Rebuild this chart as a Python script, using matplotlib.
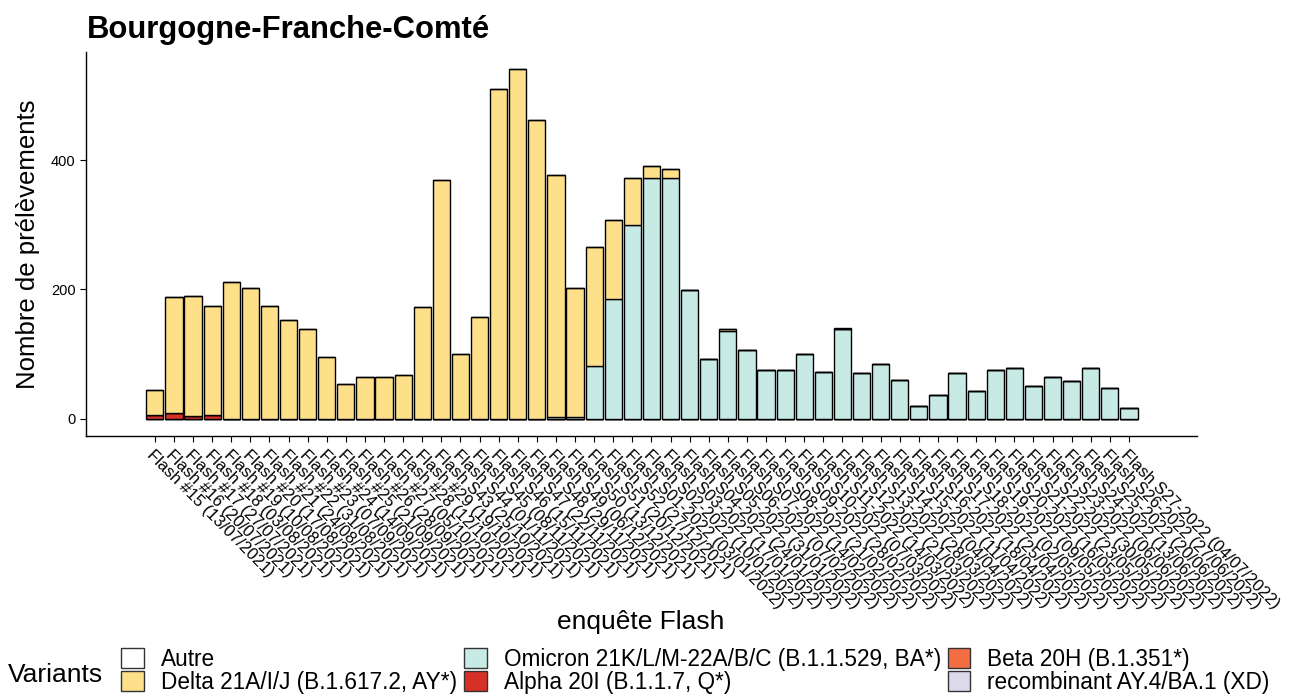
import matplotlib
matplotlib.use('Agg')
import matplotlib.pyplot as plt
from matplotlib.patches import Patch
import numpy as np

plt.rcParams['font.family'] = ['Liberation Sans', 'DejaVu Sans']

# x labels (one bar per Flash survey)
labels_2021a = ['Flash #15 (13/07/2021)', 'Flash #16 (20/07/2021)', 'Flash #17 (27/07/2021)',
                'Flash #18 (03/08/2021)', 'Flash #19 (10/08/2021)', 'Flash #20 (17/08/2021)',
                'Flash #21 (24/08/2021)', 'Flash #22 (31/08/2021)', 'Flash #23 (07/09/2021)',
                'Flash #24 (14/09/2021)', 'Flash #25 (21/09/2021)', 'Flash #26 (28/09/2021)',
                'Flash #27 (05/10/2021)', 'Flash #28 (12/10/2021)', 'Flash #29 (19/10/2021)']
labels_2021b = ['Flash S43 (25/10/2021)', 'Flash S44 (01/11/2021)', 'Flash S45 (08/11/2021)',
                'Flash S46 (15/11/2021)', 'Flash S47 (22/11/2021)', 'Flash S48 (29/11/2021)',
                'Flash S49 (06/12/2021)', 'Flash S50 (13/12/2021)', 'Flash S51 (20/12/2021)',
                'Flash S52 (27/12/2021)']
labels_2022 = ['Flash S01-2022 (03/01/2022)', 'Flash S02-2022 (10/01/2022)', 'Flash S03-2022 (17/01/2022)',
               'Flash S04-2022 (24/01/2022)', 'Flash S05-2022 (31/01/2022)', 'Flash S06-2022 (07/02/2022)',
               'Flash S07-2022 (14/02/2022)', 'Flash S08-2022 (21/02/2022)', 'Flash S09-2022 (28/02/2022)',
               'Flash S10-2022 (07/03/2022)', 'Flash S11-2022 (14/03/2022)', 'Flash S12-2022 (21/03/2022)',
               'Flash S13-2022 (28/03/2022)', 'Flash S14-2022 (04/04/2022)', 'Flash S15-2022 (11/04/2022)',
               'Flash S16-2022 (18/04/2022)', 'Flash S17-2022 (25/04/2022)', 'Flash S18-2022 (02/05/2022)',
               'Flash S19-2022 (09/05/2022)', 'Flash S20-2022 (16/05/2022)', 'Flash S21-2022 (23/05/2022)',
               'Flash S22-2022 (30/05/2022)', 'Flash S23-2022 (06/06/2022)', 'Flash S24-2022 (13/06/2022)',
               'Flash S25-2022 (20/06/2022)', 'Flash S26-2022 (27/06/2022)', 'Flash S27-2022 (04/07/2022)']
labels = labels_2021a + labels_2021b + labels_2022

# counts per variant
autre = [0]*36 + [1] + [0]*15
delta = [39, 179, 186, 168, 211, 202, 174, 152, 139, 96, 54, 65, 64, 67, 173,
         370, 100, 157, 510, 542, 462, 376, 199, 184, 122, 73, 20, 14, 0, 0,
         2] + [0]*21
omicron = [0]*21 + [2, 3, 82, 185, 300, 372, 372, 199, 92, 136, 106, 75, 75, 100,
                    72, 139, 70, 84, 59, 20, 37, 70, 42, 75, 78, 50, 64, 58, 79, 48, 16]
alpha = [6, 9, 4, 6] + [0]*48
beta = [0]*52
recomb = [0]*52

variants = ['Autre', 'Delta 21A/I/J (B.1.617.2, AY*)', 'Omicron 21K/L/M-22A/B/C (B.1.1.529, BA*)',
            'Alpha 20I (B.1.1.7, Q*)', 'Beta 20H (B.1.351*)', 'recombinant AY.4/BA.1 (XD)']
colors = ['#FFFFFF', '#FEE08B', '#C7EAE5', '#D73027', '#F46D43', '#DADAEB']

fig = plt.figure(figsize=(12.96, 6.97), dpi=100)
ax = fig.add_axes([0.0664, 0.3745, 0.8572, 0.551])

x = np.arange(len(labels))
# stack from bottom: recombinant, beta, alpha, omicron, delta, autre
stack = [(recomb, 5), (beta, 4), (alpha, 3), (omicron, 2), (delta, 1), (autre, 0)]
bottom = np.zeros(len(labels))
for vals, k in stack:
    vals = np.array(vals, dtype=float)
    ax.bar(x, vals, width=0.9, bottom=bottom, color=colors[k],
           edgecolor='black', linewidth=1.0)
    bottom += vals

ax.set_xlim(-3.6, len(labels) - 1 + 3.56)
ax.set_ylim(-27, 568)
ax.set_yticks([0, 200, 400])
ax.tick_params(axis='y', labelsize=10.5, length=4, width=0.8)
ax.set_xticks(x)
ax.set_xticklabels(labels, rotation=-45, ha='left', va='top', rotation_mode='anchor',
                   fontsize=12)
ax.tick_params(axis='x', length=4, width=0.8, pad=4)
for s in ['top', 'right']:
    ax.spines[s].set_visible(False)
ax.spines['left'].set_linewidth(1.0)
ax.spines['bottom'].set_linewidth(1.0)

ax.set_ylabel('Nombre de prélèvements', fontsize=18.5, labelpad=8)
fig.text(0.4945, 0.107, 'enquête Flash', fontsize=19, ha='center', va='center')
fig.text(0.067, 0.957, 'Bourgogne-Franche-Comté', fontsize=22.3, fontweight='bold',
         ha='left', va='center')

# legend
fig.text(0.006, 0.032, 'Variants', fontsize=19, ha='left', va='center')
handles = [Patch(facecolor=c, edgecolor='#333333', linewidth=1) for c in colors]
fig.legend(handles, variants, ncol=3,
           loc='lower left', bbox_to_anchor=(0.085, -0.012), frameon=False,
           fontsize=16.3, handlelength=1.0, handleheight=1.0, handletextpad=0.75,
           labelspacing=0.0, columnspacing=0.3, borderpad=0)

fig.savefig('out.png', dpi=100)
